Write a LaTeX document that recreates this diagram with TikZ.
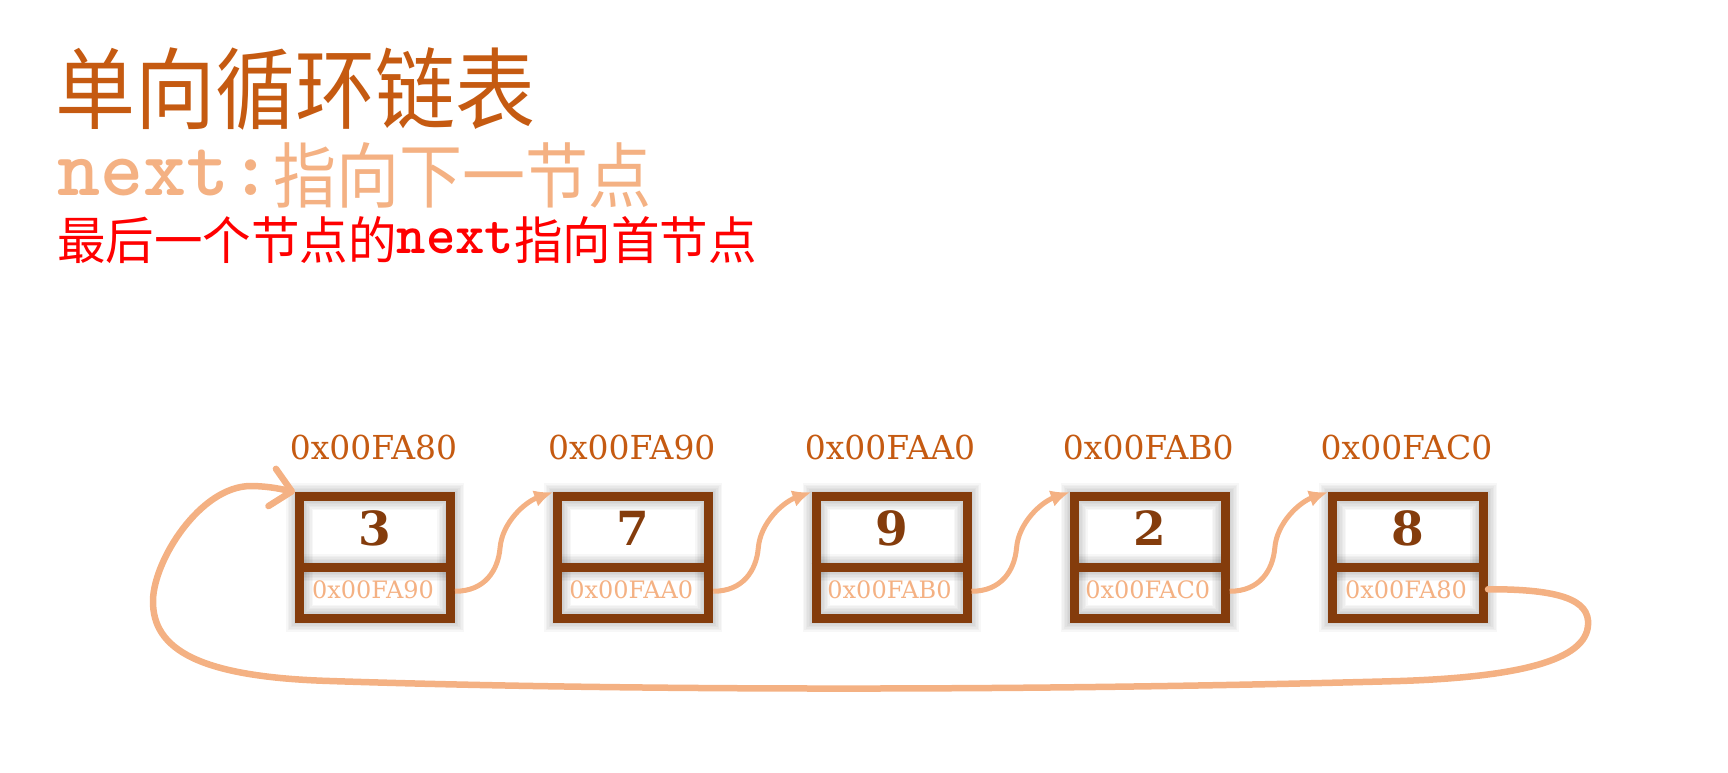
\documentclass[tikz,border=0pt]{standalone}
\usepackage{fontspec}
\setmainfont{DejaVu Serif}
\newfontfamily\cjk{Noto Sans CJK SC}
\usetikzlibrary{arrows.meta,backgrounds}
\definecolor{titleC}{HTML}{C55A11}
\definecolor{peach}{HTML}{F4B183}
\definecolor{frameC}{HTML}{843C0C}
\definecolor{redC}{HTML}{FF0000}
\tikzset{
  frame/.style={draw=frameC, line width=9pt, minimum width=151pt, minimum height=121.5pt, inner sep=0pt},
  txt/.style={inner sep=0pt, anchor=base},
  addr/.style={txt, font=\fontsize{33}{33}\selectfont, text=titleC},
  val/.style={txt, font=\bfseries\fontsize{47}{47}\selectfont, text=frameC},
  nxt/.style={txt, font=\fontsize{24}{24}\selectfont, text=peach},
  link/.style={draw=peach, line width=5pt, -{Latex[length=19pt,width=17pt]}},
  back/.style={draw=peach, line width=6.5pt, line cap=round, -{Straight Barb[length=20pt,width=38pt,line cap=round,line join=round]}}
}
\begin{document}
\begin{tikzpicture}[x=1pt,y=-1pt]
\useasboundingbox (0,0) rectangle (1728,772);
% titles
\node[txt, anchor=base west, text=titleC, font=\cjk\fontsize{80}{80}\selectfont] (title) at (55,122) {\scalebox{1}[1.11]{单向循环链表}};
\node[txt, anchor=base west, text=peach, font=\ttfamily\bfseries\fontsize{82}{82}\selectfont] (nx) at (57,195) {next:};
\node[txt, anchor=base west, text=peach, font=\cjk\fontsize{63}{63}\selectfont] (desc) at (273,202) {\scalebox{1}[1.13]{指向下一节点}};
\node[txt, anchor=base west, text=redC, font=\cjk\fontsize{48.5}{48.5}\selectfont] (note) at (57,259) {\scalebox{1}[1.05]{最后一个节点的}\raisebox{6pt}{\ttfamily\bfseries\fontsize{56}{56}\selectfont next}\scalebox{1}[1.05]{指向首节点}};
% boxes
\foreach \i/\cx/\ad/\v/\nx in {1/375/0x00FA80/3/0x00FA90, 2/633.25/0x00FA90/7/0x00FAA0, 3/891.5/0x00FAA0/9/0x00FAB0, 4/1149.75/0x00FAB0/2/0x00FAC0, 5/1408/0x00FAC0/8/0x00FA80}{
  \node[frame] (b\i) at (\cx,557.25) {};
  \draw[frameC, line width=9pt] ([yshift=-10.25pt]b\i.west) -- ([yshift=-10.25pt]b\i.east);
  \node[addr] (a\i) at (\cx-1.5,459) {\ad};
  \node[val] (v\i) at (\cx,545) {\v};
  \node[nxt] (p\i) at (\cx-2,598) {\nx};
  \begin{scope}[on background layer]
    \foreach \k in {1,...,6}{
      \draw[black, opacity=0.03, line width=9pt+3*\k pt] ([xshift=4.5pt,yshift=-4.5pt]b\i.north west) rectangle ([xshift=-4.5pt,yshift=4.5pt]b\i.south east);
      \draw[black, opacity=0.03, line width=9pt+3*\k pt] ([yshift=-10.25pt,xshift=4.5pt]b\i.west) -- ([yshift=-10.25pt,xshift=-4.5pt]b\i.east);
    }
  \end{scope}
}
% links
\foreach \i/\j in {1/2,2/3,3/4,4/5}{
  \draw[link] ([yshift=-34pt]b\i.east) .. controls +(30,0) and +(-2,22) .. ++(45,-43) .. controls +(2,-26) and +(-28,10) .. (b\j.north west);
}
% loop back
\coordinate (r1) at (1588,625);
\coordinate (r2) at (1400,681);
\coordinate (r3) at (330,681);
\coordinate (r4) at (153,600);
\coordinate (r5) at (250,486);
\draw[back] ([yshift=-32pt]b5.east) .. controls (1560,589) and (1590,600) .. (r1)
  .. controls (1586,660) and (1520,677) .. (r2)
  .. controls (1000,692) and (600,690) .. (r3)
  .. controls (200,677) and (152,650) .. (r4)
  .. controls (154,560) and (200,487) .. (r5)
  .. controls (270,486) and (285,490) .. (b1.north west);
\end{tikzpicture}
\end{document}
